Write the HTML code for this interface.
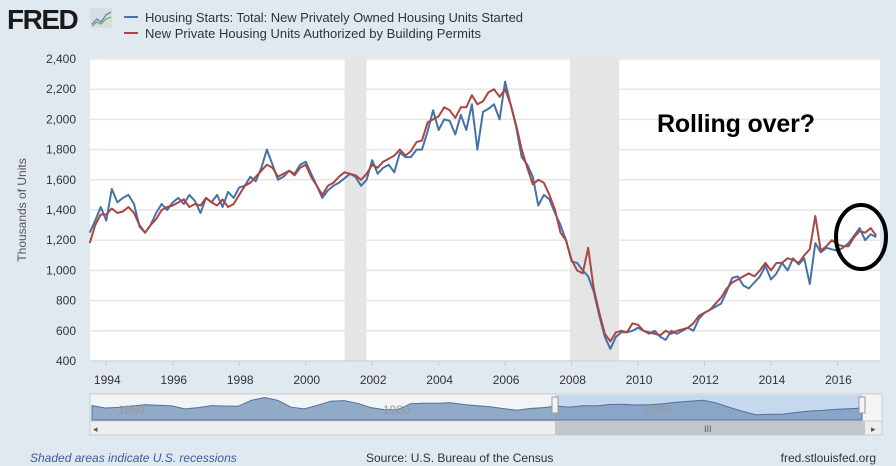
<!DOCTYPE html>
<html><head><meta charset="utf-8"><style>
body{margin:0;background:#e1e9f0;font-family:"Liberation Sans",sans-serif;}
svg{display:block}
</style></head><body>
<svg id="c" width="896" height="466" xmlns="http://www.w3.org/2000/svg">
<rect width="896" height="466" fill="#e1e9f0"/>
<g>
<text x="7" y="29" font-size="28" font-weight="bold" fill="#1a1a1a" letter-spacing="-1.5">FRED</text>
<rect x="90" y="8" width="22" height="20" rx="2" fill="#d8dde2"/>
<polyline points="92,24 97,19 101,22 106,15 111,12" fill="none" stroke="#4f7fb8" stroke-width="1.2"/>
<polyline points="92,26 97,22 101,24 106,19 111,17" fill="none" stroke="#6aaa3a" stroke-width="1.2"/>
</g>
<g>
<line x1="124" y1="17" x2="138" y2="17" stroke="#4572a7" stroke-width="2"/>
<text x="145" y="22" font-size="13" fill="#333" textLength="378">Housing Starts: Total: New Privately Owned Housing Units Started</text>
<line x1="124" y1="33" x2="138" y2="33" stroke="#aa4643" stroke-width="2"/>
<text x="145" y="38" font-size="13" fill="#333" textLength="336">New Private Housing Units Authorized by Building Permits</text>
</g>
<rect x="90" y="58" width="790" height="303" fill="#fff"/>
<g id="rec"></g><g id="grid"></g><g id="yt"></g><g id="xt"></g><g id="series"></g>
<text transform="translate(26,210) rotate(-90)" text-anchor="middle" font-size="12" fill="#555">Thousands of Units</text>
<text x="657" y="132" font-size="25" font-weight="bold" fill="#000" textLength="158">Rolling over?</text>
<ellipse cx="861" cy="237" rx="25" ry="32" fill="none" stroke="#000" stroke-width="4"/>
<g>
<rect x="90" y="394" width="792" height="27" fill="#f2f4f6" stroke="#ccc"/>
<rect x="555" y="395" width="307" height="25" fill="#c6d8ee"/>
<path id="navArea" fill="#7f9cc0" fill-opacity="0.85" stroke="#4f72a0" stroke-width="1"/>
<text x="118" y="414" font-size="12" fill="#999">1960</text>
<text x="383" y="414" font-size="12" fill="#999">1980</text>
<text x="645" y="414" font-size="12" fill="#999">2000</text>
<rect x="552" y="397" width="6" height="16" fill="#f4f4f4" stroke="#999"/>
<rect x="859" y="397" width="6" height="16" fill="#f4f4f4" stroke="#999"/>
<rect x="90" y="421" width="792" height="14" fill="#eee" stroke="#ccc"/>
<rect x="555" y="421" width="310" height="14" fill="#c1c6cb"/>
<text x="704" y="432" font-size="9" fill="#555">III</text>
<text x="93" y="432" font-size="9" fill="#555">◂</text>
<text x="871" y="432" font-size="9" fill="#555">▸</text>
</g>
<text x="30" y="462" font-size="12" font-style="italic" fill="#3d5c9a">Shaded areas indicate U.S. recessions</text>
<text x="366" y="462" font-size="12" fill="#333">Source: U.S. Bureau of the Census</text>
<text x="876" y="462" font-size="12" fill="#333" text-anchor="end">fred.stlouisfed.org</text>
</svg>
<script>
const startYear = 1993.5;
const yTicks = [400,600,800,1000,1200,1400,1600,1800,2000,2200,2400];
const xTickYears = [1994,1996,1998,2000,2002,2004,2006,2008,2010,2012,2014,2016];
const recessions = [[2001.17,2001.83],[2007.95,2009.43]];
const starts = [1250,1330,1420,
1330,1540,1450,1480,1500,1440,
1290,1250,1300,1380,1440,1400,
1450,1480,1440,1500,1460,1380,
1480,1450,1500,1420,1520,1480,
1550,1560,1620,1590,1680,1800,
1700,1600,1620,1660,1640,1700,
1720,1640,1560,1480,1530,1560,
1580,1610,1640,1620,1560,1600,
1730,1640,1680,1700,1650,1780,
1750,1750,1800,1800,1920,2060,
1930,2000,1990,1900,2030,1930,
2100,1800,2050,2070,2100,2000,
2250,2100,1950,1750,1700,1620,
1430,1500,1470,1380,1300,1200,
1060,1050,1000,960,860,700,
560,480,560,590,590,600,
620,600,580,600,560,540,
600,580,600,620,600,680,
720,740,760,780,860,950,
960,900,880,920,960,1030,
940,980,1050,1000,1080,1040,
1080,910,1180,1120,1150,1140,
1130,1150,1180,1230,1280,1200,
1240,1220];
const permits = [1180,1300,1370,
1370,1410,1380,1390,1420,1380,
1300,1250,1300,1340,1400,1420,
1430,1450,1470,1420,1440,1430,
1480,1450,1430,1470,1420,1440,
1500,1560,1580,1620,1660,1700,
1680,1620,1640,1660,1630,1680,
1700,1620,1560,1500,1560,1580,
1620,1650,1640,1630,1600,1640,
1700,1680,1720,1740,1760,1800,
1760,1790,1850,1860,1980,2000,
2020,2080,2060,2010,2080,2080,
2160,2100,2120,2180,2200,2150,
2200,2100,1960,1800,1680,1570,
1600,1580,1500,1400,1250,1200,
1070,1000,980,1150,880,720,
580,530,590,600,590,650,
640,600,590,580,570,600,
580,600,610,620,650,700,
720,740,780,820,880,920,
940,960,980,960,1000,1050,
1000,1050,1050,1080,1070,1050,
1100,1140,1360,1130,1160,1200,
1170,1160,1160,1220,1260,1250,
1280,1230];
const navYears = [1959,2017.2];
const navValues = [1500,1250,1310,1460,1600,1530,1470,1160,1290,1500,1460,1430,2050,2350,2040,1340,1160,1540,1960,2020,1740,1290,1080,1060,1700,1750,1740,1800,1620,1490,1380,1190,1010,1200,1290,1450,1350,1480,1470,1620,1640,1570,1600,1700,1850,1950,2070,1800,1340,900,550,590,610,780,930,1000,1110,1180,1250];

const NS="http://www.w3.org/2000/svg";
const X0=90,X1=880,T0=1993.51,T1=2017.28,Y0=361,Y1=59;
const xS=t=>X0+(t-T0)/(T1-T0)*(X1-X0);
const yS=v=>Y0-(v-400)/2000*(Y0-Y1);
function mk(tag,at,parent){const e=document.createElementNS(NS,tag);for(const k in at)e.setAttribute(k,at[k]);document.getElementById(parent).appendChild(e);return e;}
recessions.forEach(r=>{const e=mk('rect',{x:xS(r[0]),y:58,width:xS(r[1])-xS(r[0]),height:303,fill:'#e5e5e5'},'rec');

});
yTicks.forEach(v=>{const g=mk('line',{x1:X0,x2:X1,y1:yS(v),y2:yS(v),stroke:'#e6e6e6','stroke-width':1.5},'grid');


const t=mk('text',{x:76,y:yS(v)+4,'text-anchor':'end','font-size':12,fill:'#333'},'yt');


t.textContent=v.toLocaleString('en-US');});
mk('line',{x1:X0,x2:X1,y1:361,y2:361,stroke:'#c0d0e0'},'xt');
xTickYears.forEach(y=>{mk('line',{x1:xS(y),x2:xS(y),y1:361,y2:366,stroke:'#c0d0e0'},'xt');
const t=mk('text',{x:xS(y)+1,y:384,'text-anchor':'middle','font-size':12,fill:'#333'},'xt');


t.textContent=y;});
function line(arr,color,name){const pts=arr.map((v,i)=>xS(startYear+i/6).toFixed(1)+','+yS(v).toFixed(1)).join(' ');
const p=mk('polyline',{points:pts,fill:'none',stroke:color,'stroke-width':2,'stroke-linejoin':'round'},'series');

}
line(starts,'#4572a7','housing-starts-line');
line(permits,'#aa4643','building-permits-line');
const nx=i=>92+(i/(navValues.length-1))*(862-92);
const ny=v=>420-v/2400*23;
let d='M92,420 '+navValues.map((v,i)=>'L'+nx(i).toFixed(1)+','+ny(v).toFixed(1)).join(' ')+' L862,420 Z';
const na=document.getElementById('navArea');na.setAttribute('d',d);


</script>
</body></html>
